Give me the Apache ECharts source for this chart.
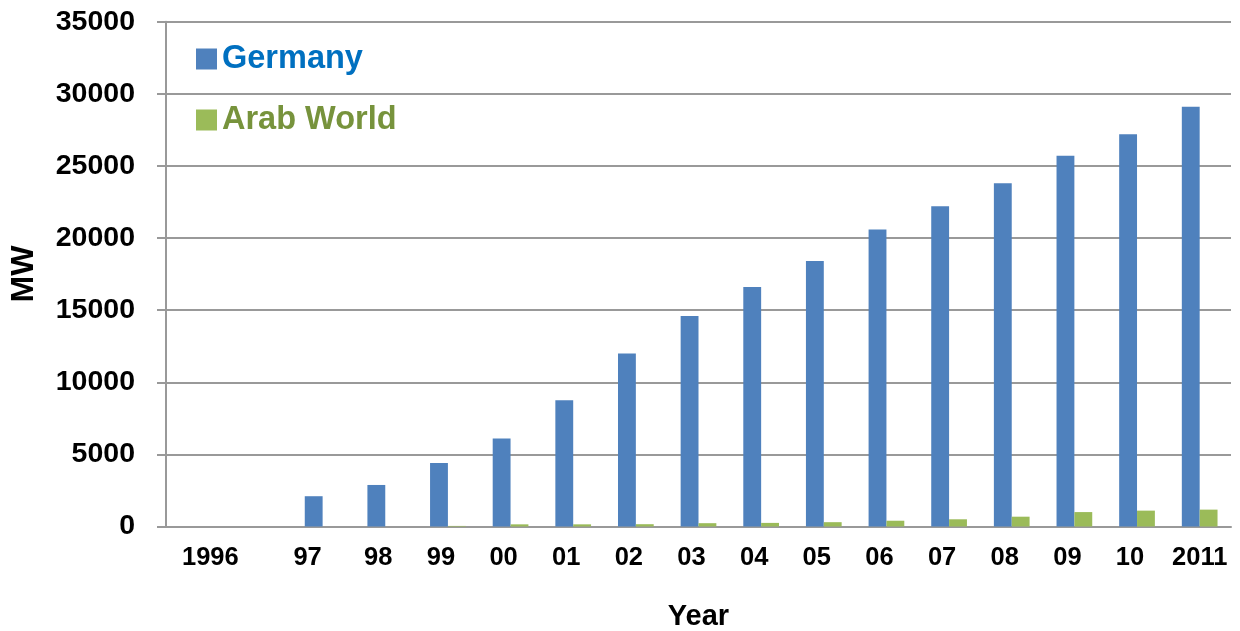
<!DOCTYPE html>
<html>
<head>
<meta charset="utf-8">
<script src="https://cdn.jsdelivr.net/npm/echarts@6/dist/echarts.min.js"></script>
<style>html,body{margin:0;padding:0;background:#fff}#c{width:1240px;height:631px}</style>
</head>
<body>
<div id="c"></div>
<script>
var categories = ['1996', '', '97', '98', '99', '00', '01', '02', '03', '04', '05', '06', '07', '08', '09', '10', '2011'];
var germany = [null, null, 2100, 2880, 4400, 6100, 8750, 12000, 14600, 16600, 18400, 20600, 22200, 23800, 25700, 27200, 29100];
var arabWorld = [null, null, 0, 0, 40, 150, 150, 160, 230, 250, 300, 400, 500, 680, 1000, 1100, 1170];
var seriesNames = ['Germany', 'Arab World'];

var FONT = 'Liberation Sans';
var chart = echarts.init(document.getElementById('c'), null, {renderer: 'canvas'});
var labelBase = {fontFamily: FONT, fontWeight: 'bold', fontSize: 25.5, color: '#000'};
chart.setOption({
  animation: false,
  grid: {left: 166, right: 9, top: 21.7, bottom: 104.5, containLabel: false, outerBoundsMode: 'none'},
  legend: {
    orient: 'vertical', left: 191, top: 34, itemWidth: 21, itemHeight: 21, itemGap: 21,
    icon: 'rect',
    data: [
      {name: seriesNames[0], textStyle: {color: '#0070C0'}},
      {name: seriesNames[1], textStyle: {color: '#77933C'}}
    ],
    textStyle: {fontFamily: FONT, fontWeight: 'bold', fontSize: 32.5, lineHeight: 40, padding: [0, 0, 0, 0]}
  },
  xAxis: {
    type: 'category', data: categories,
    name: 'Year', nameLocation: 'middle', nameGap: 76,
    nameTextStyle: {fontFamily: FONT, fontWeight: 'bold', fontSize: 29, color: '#000'},
    axisLine: {show: true, lineStyle: {color: '#999', width: 2}},
    axisTick: {show: false},
    axisLabel: {
      interval: 0, margin: 18,
      formatter: function (v, i) {
        if (!v) return '';
        var s = 'n';
        if (i === 0) s = 'f';
        else if (i === 2) s = 'a';
        else if (i === categories.length - 1) s = 'e';
        return '{' + s + '|' + v + '}';
      },
      rich: {
        f: Object.assign({padding: [0, 0, 0, 26]}, labelBase),
        a: Object.assign({padding: [0, 30, 0, 0]}, labelBase),
        n: Object.assign({padding: [0, 14, 0, 0]}, labelBase),
        e: Object.assign({}, labelBase)
      }
    }
  },
  yAxis: {
    type: 'value', min: 0, max: 35000, interval: 5000,
    name: 'MW', nameLocation: 'middle', nameGap: 126, nameRotate: 90,
    nameTextStyle: {fontFamily: FONT, fontWeight: 'bold', fontSize: 32, color: '#000'},
    axisLine: {show: true, lineStyle: {color: '#999', width: 2}},
    axisTick: {show: true, length: 9, inside: false, lineStyle: {color: '#999', width: 2}},
    splitLine: {show: true, lineStyle: {color: '#999', width: 2}},
    axisLabel: {margin: 31, fontFamily: FONT, fontWeight: 'bold', fontSize: 28.5, color: '#000',
      formatter: function (v) { return String(v); }}
  },
  series: [
    {name: seriesNames[0], type: 'bar', data: germany, itemStyle: {color: '#4F81BD'}, barGap: '0%', barCategoryGap: '43%'},
    {name: seriesNames[1], type: 'bar', data: arabWorld, itemStyle: {color: '#9BBB59'}, barGap: '0%', barCategoryGap: '43%'}
  ]
});
</script>
</body>
</html>
